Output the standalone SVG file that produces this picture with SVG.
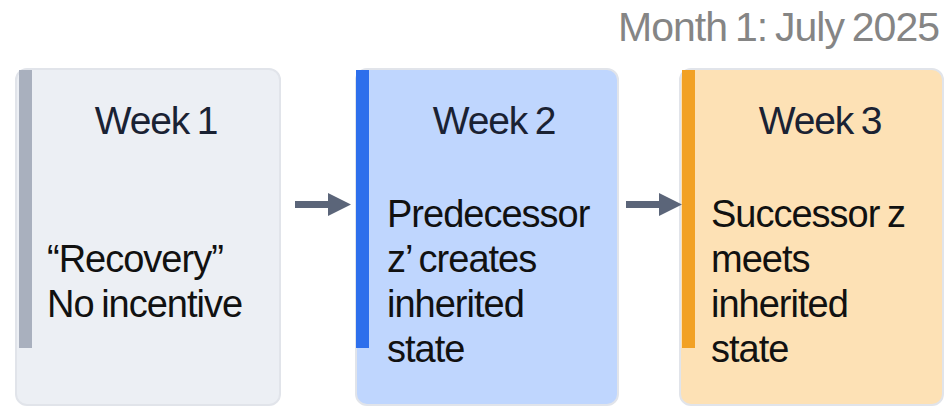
<svg xmlns="http://www.w3.org/2000/svg" width="951" height="406" viewBox="0 0 951 406">
  <style>
    .card { stroke: #E1E4EA; stroke-width: 2; }
    .head { font-family: "Liberation Sans", Arial, sans-serif; font-size: 39px; fill: #1A2233; text-anchor: middle; letter-spacing: -1.2px; word-spacing: -2px; }
    .body { font-family: "Liberation Sans", Arial, sans-serif; font-size: 38px; fill: #111111; letter-spacing: -1px; word-spacing: -2px; }
    .month { font-family: "Liberation Sans", Arial, sans-serif; font-size: 41px; fill: #858585; text-anchor: end; letter-spacing: -1px; word-spacing: -2.5px; }
    .arrow { fill: #5B6579; }
  </style>

  <text class="month" x="939" y="41">Month 1: July 2025</text>

  <g id="week1">
    <rect class="card" x="16" y="69" width="264" height="336" rx="11" fill="#ECEFF4"/>
    <rect x="19" y="70" width="13" height="278" fill="#A9B0BE"/>
    <text class="head" x="156" y="134">Week 1</text>
    <text class="body" x="47" y="272">“Recovery”</text>
    <text class="body" x="47" y="317">No incentive</text>
  </g>

  <g id="week2">
    <rect class="card" x="356" y="69" width="262" height="336" rx="11" fill="#BFD6FE"/>
    <rect x="356" y="70" width="13" height="278" fill="#2D6FEC"/>
    <text class="head" x="494" y="134">Week 2</text>
    <text class="body" x="387" y="227">Predecessor</text>
    <text class="body" x="387" y="272">z’ creates</text>
    <text class="body" x="387" y="317">inherited</text>
    <text class="body" x="387" y="362">state</text>
  </g>

  <g id="week3">
    <rect class="card" x="680" y="69" width="263" height="336" rx="11" fill="#FDE1B5"/>
    <rect x="682" y="70" width="13" height="278" fill="#F2A124"/>
    <text class="head" x="820" y="134">Week 3</text>
    <text class="body" x="711" y="227">Successor z</text>
    <text class="body" x="711" y="272">meets</text>
    <text class="body" x="711" y="317">inherited</text>
    <text class="body" x="711" y="362">state</text>
  </g>

  <g id="connectors">
    <path class="arrow" d="M295,201 h33 v-8 l23,11.5 l-23,11.5 v-8 h-33 z"/>
    <path class="arrow" d="M626,201 h33 v-8 l23,11.5 l-23,11.5 v-8 h-33 z"/>
  </g>
</svg>
